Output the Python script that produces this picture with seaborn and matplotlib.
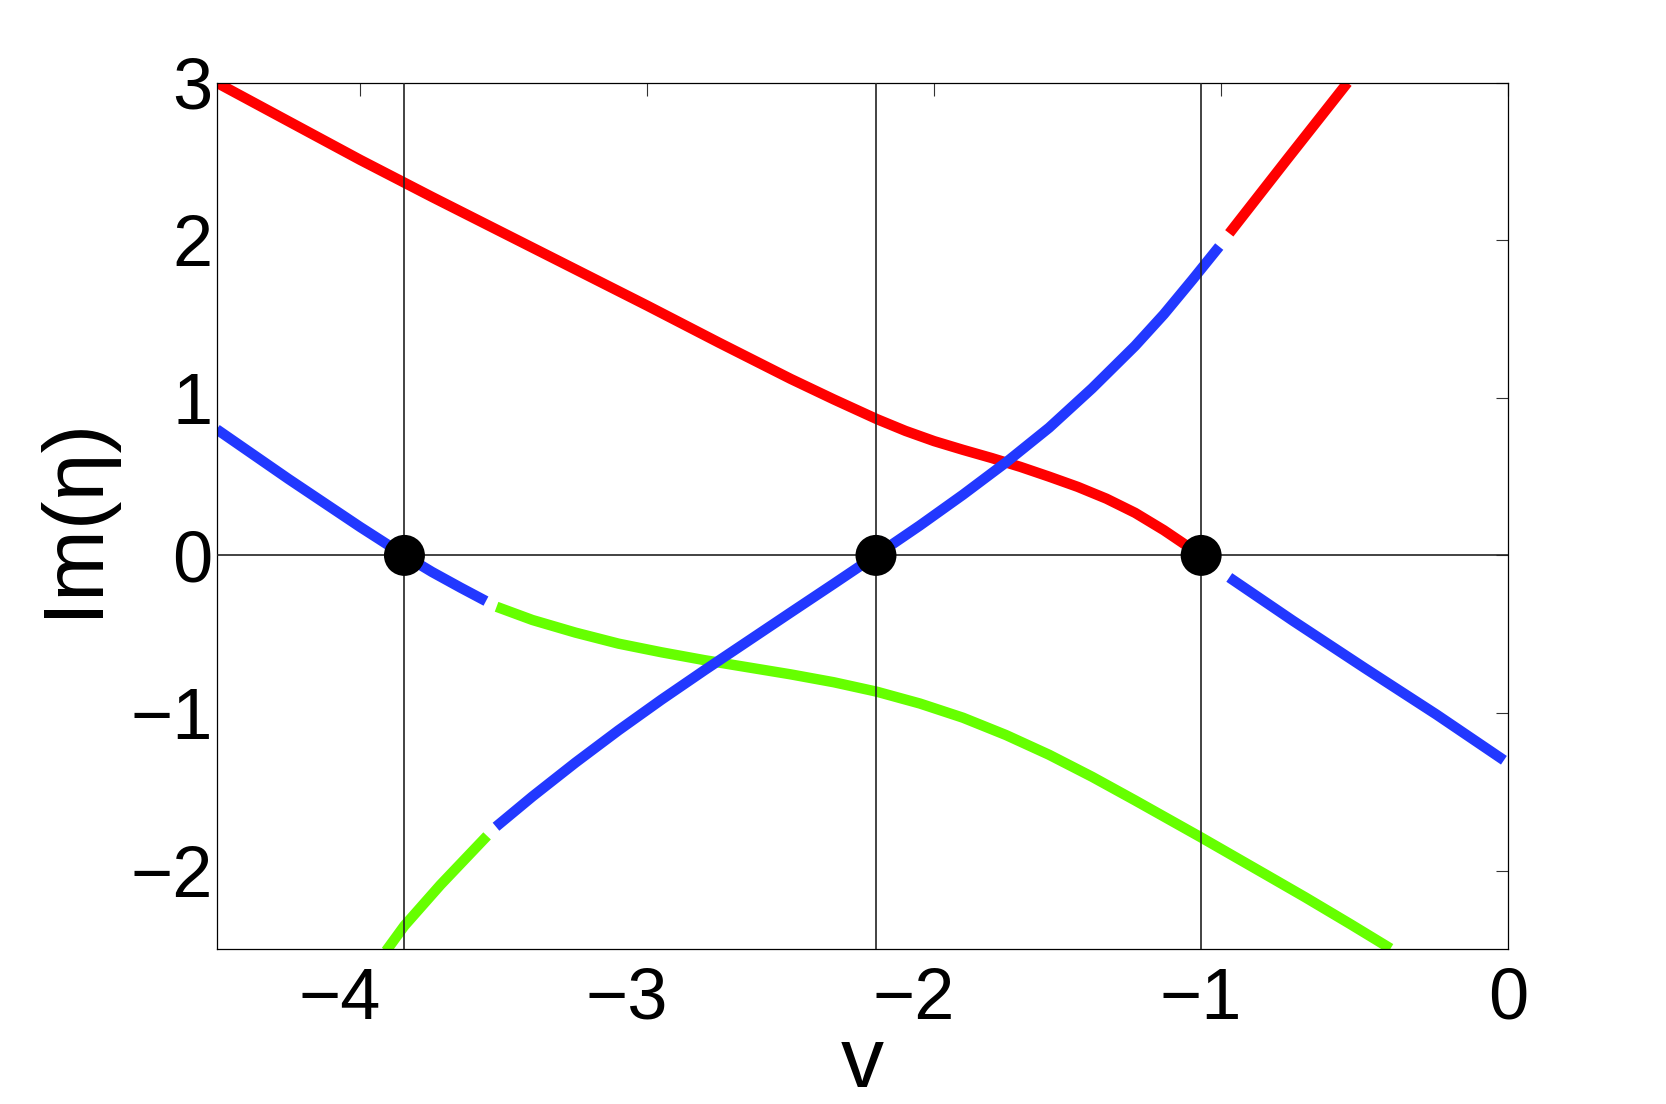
import numpy as np
import pandas as pd
import matplotlib
matplotlib.use("Agg")
import matplotlib.pyplot as plt
import matplotlib.transforms as mtransforms
import seaborn as sns

# branches of Im(eta) against v
red_main_x = [-4.5, -4.25, -4.0, -3.75, -3.5, -3.25, -3.0, -2.75, -2.5, -2.35,
              -2.2, -2.1, -2.0, -1.9, -1.8, -1.7, -1.6, -1.5, -1.4, -1.3, -1.2, -1.07]
red_main_y = [3.0, 2.755, 2.51, 2.275, 2.045, 1.815, 1.585, 1.35, 1.12, 0.99,
              0.865, 0.79, 0.725, 0.67, 0.618, 0.562, 0.5, 0.435, 0.36, 0.27, 0.16, 0.0]

red_top_x = [-0.972, -0.77, -0.56]
red_top_y = [2.044, 2.515, 3.0]

blue_left_x = [-4.5, -4.25, -4.0, -3.846, -3.75, -3.65, -3.562]
blue_left_y = [0.80, 0.485, 0.18, 0.0, -0.105, -0.205, -0.29]

blue_mid_x = [-3.527, -3.4, -3.25, -3.1, -2.95, -2.8, -2.65, -2.5, -2.35, -2.203,
              -2.05, -1.9, -1.75, -1.6, -1.45, -1.3, -1.2, -1.1, -1.007]
blue_mid_y = [-1.722, -1.53, -1.315, -1.11, -0.915, -0.728, -0.545, -0.362, -0.18, 0.0,
              0.19, 0.385, 0.59, 0.81, 1.06, 1.33, 1.53, 1.75, 1.96]

blue_right_x = [-0.972, -0.75, -0.5, -0.25, -0.015]
blue_right_y = [-0.14, -0.415, -0.715, -1.01, -1.30]

green_low_x = [-3.91, -3.846, -3.72, -3.558]
green_low_y = [-2.51, -2.35, -2.09, -1.78]

green_mid_x = [-3.525, -3.4, -3.25, -3.1, -2.95, -2.8, -2.65, -2.5, -2.35, -2.2, -2.05,
               -1.9, -1.75, -1.6, -1.45, -1.3, -1.07, -0.85, -0.707, -0.55, -0.41]
green_mid_y = [-0.326, -0.41, -0.49, -0.56, -0.615, -0.665, -0.71, -0.755, -0.805, -0.865, -0.94,
               -1.03, -1.14, -1.265, -1.405, -1.555, -1.79, -2.02, -2.17, -2.34, -2.495]

roots = [-3.846, -2.203, -1.070]

x_ticks = [-4, -3, -2, -1, 0]
y_ticks = [-2, -1, 0, 1, 2, 3]

RED = "#ff0000"
BLUE = "#2238ff"
GREEN = "#66ff00"

sns.set_style("white")
plt.rcParams["font.family"] = ["Liberation Sans", "DejaVu Sans"]
plt.rcParams["text.color"] = "black"
plt.rcParams["axes.labelcolor"] = "black"
plt.rcParams["xtick.color"] = "black"
plt.rcParams["ytick.color"] = "black"

fig = plt.figure(figsize=(16.66, 11.04), dpi=100)
ax = fig.add_axes([0.1301, 0.1401, 0.7752, 0.7850])

segments = [
    (red_main_x, red_main_y, RED),
    (red_top_x, red_top_y, RED),
    (green_low_x, green_low_y, GREEN),
    (green_mid_x, green_mid_y, GREEN),
    (blue_left_x, blue_left_y, BLUE),
    (blue_mid_x, blue_mid_y, BLUE),
    (blue_right_x, blue_right_y, BLUE),
]
for xs, ys, col in segments:
    df = pd.DataFrame({"v": xs, "im": ys})
    sns.lineplot(data=df, x="v", y="im", ax=ax, sort=False, estimator=None,
                 color=col, zorder=2)
for ln in ax.lines:
    ln.set_linewidth(7.5)
    ln.set_solid_capstyle("butt")
    ln.set_solid_joinstyle("round")

# thin reference lines through the roots
for r in roots:
    ax.axvline(r, color="#222222", linewidth=1.2, zorder=3)
ax.axhline(0, color="#222222", linewidth=1.2, zorder=3)

dots = pd.DataFrame({"v": roots, "im": [0.0] * len(roots)})
sns.scatterplot(data=dots, x="v", y="im", ax=ax, color="black", s=870,
                edgecolor="none", zorder=4)

ax.set_xlim(-4.5, 0)
ax.set_ylim(-2.5, 3)
ax.set_xticks(x_ticks)
ax.set_yticks(y_ticks)
ax.set_xticklabels([f"{t}".replace("-", "\u2212") for t in x_ticks])
ax.set_yticklabels([f"{t}".replace("-", "\u2212") for t in y_ticks])

ax.tick_params(axis="both", which="major", direction="in", length=9, width=0.8,
               top=True, right=True, labelsize=52, color="#333333",
               labelcolor="black")
ax.tick_params(axis="x", pad=12.5)
ax.tick_params(axis="y", pad=3)

for sp in ax.spines.values():
    sp.set_color("black")
    sp.set_linewidth(0.9)

ax.set_xlabel("v", fontsize=62, color="black")
ax.set_ylabel("Im(\u03b7)", fontsize=62, color="black")
ax.xaxis.set_label_coords(0.5, -0.087)
ax.yaxis.set_label_coords(-0.0794, 0.5)

# negative labels: keep the digit centred on the tick, minus hanging left
shift = mtransforms.ScaledTranslation(-20.3 / 100, 0, fig.dpi_scale_trans)
for tick, t in zip(ax.xaxis.get_major_ticks(), x_ticks):
    if t < 0:
        tick.label1.set_transform(tick.label1.get_transform() + shift)

fig.savefig("out.png", dpi=100)
plt.close(fig)
